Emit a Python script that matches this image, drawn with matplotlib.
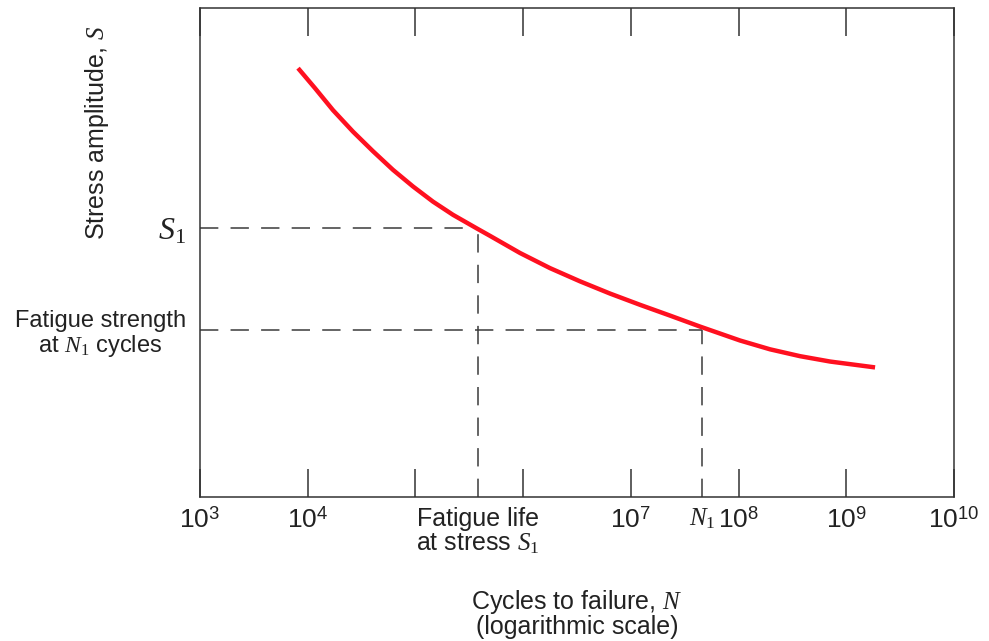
import matplotlib
matplotlib.use('Agg')
import matplotlib.pyplot as plt

plt.rcParams['font.family'] = ['Liberation Sans', 'DejaVu Sans']
plt.rcParams['mathtext.fontset'] = 'custom'
plt.rcParams['mathtext.rm'] = 'Liberation Sans'
plt.rcParams['mathtext.it'] = 'Liberation Serif:italic'
plt.rcParams['mathtext.sf'] = 'Liberation Serif'

# S-N curve (cycles, stress amplitude in arbitrary units)
cycles = [8.13e3, 1.169e4, 1.718e4, 2.636e4, 4.04e4, 6.19e4, 9.5e4, 1.456e5,
          2.234e5, 3.73e5, 4.93e5, 9.35e5, 1.778e6, 3.376e6, 6.41e6, 1.217e7,
          2.31e7, 4.39e7, 1.033e8, 1.96e8, 3.72e8, 7.08e8, 1.85e9]
stress = [87.7, 83.6, 79.1, 74.7, 70.7, 66.9, 63.5, 60.4, 57.7, 54.9, 53.4,
          49.9, 46.8, 44.1, 41.6, 39.3, 37.1, 34.85, 32.0, 30.2, 28.8, 27.7, 26.5]

# marked points
N_life_S1 = 3.8e5      # fatigue life at stress S1
S1 = 55.0
N1 = 4.58e7
S_at_N1 = 34.15        # fatigue strength at N1 cycles

decades = [1e3, 1e4, 1e5, 1e6, 1e7, 1e8, 1e9, 1e10]
decade_labels = ['$10^{3}$', '$10^{4}$', '', '', '$10^{7}$', '$10^{8}$',
                 '$10^{9}$', '$10^{10}$']

fig = plt.figure(figsize=(9.89, 6.41), dpi=100)
ax = fig.add_axes([200/989, 1 - 497/641, 754/989, 489/641])

dash_kw = dict(color='#3a3a3a', lw=1.1, linestyle=(0, (12, 8)))
ax.plot([1e3, N_life_S1], [S1, S1], **dash_kw)
ax.plot([N_life_S1, N_life_S1], [0, S1], **dash_kw)
ax.plot([1e3, N1], [S_at_N1, S_at_N1], **dash_kw)
ax.plot([N1, N1], [0, S_at_N1], **dash_kw)

ax.plot(cycles, stress, color='#ff1020', lw=3.2, solid_capstyle='butt',
        solid_joinstyle='round')

ax.set_xscale('log')
ax.set_xlim(1e3, 1e10)
ax.set_ylim(0, 100)

ax.set_xticks(decades)
ax.set_xticklabels(decade_labels)
ax.set_xticks([N_life_S1, N1], minor=True)
ax.set_xticklabels(['Fatigue life\nat stress $S_\\mathsf{1}$', '$N_\\mathsf{1}$'], minor=True)
ax.tick_params(axis='x', which='major', direction='in', length=20, width=1.1,
               top=True, color='#333333', labelsize=19, pad=7, labelcolor='#222222')
ax.tick_params(axis='x', which='minor', length=0, labelsize=18, pad=7,
               labelcolor='#222222')
for lab in ax.get_xticklabels(minor=True):
    lab.set_verticalalignment('top')
    lab.set_linespacing(1.05)

ax.set_yticks([S_at_N1, S1])
ax.set_yticklabels(['Fatigue strength\nat $N_\\mathsf{1}$ cycles', '$S_\\mathsf{1}$'])
ax.tick_params(axis='y', length=0, labelsize=17, pad=10, labelcolor='#222222')
for lab in ax.get_yticklabels():
    lab.set_multialignment('center')
    lab.set_linespacing(1.1)
ax.get_yticklabels()[1].set_fontsize(23)

for sp in ax.spines.values():
    sp.set_linewidth(1.1)
    sp.set_color('#333333')

ax.text(-0.137, 0.744, 'Stress amplitude, $S$', transform=ax.transAxes,
        rotation=90, ha='center', va='center', fontsize=18, color='#222222')
ax.text(0.5, -0.186, 'Cycles to failure, $N$\n(logarithmic scale)',
        transform=ax.transAxes, ha='center', va='top', fontsize=18,
        color='#222222', linespacing=0.95)

fig.savefig('out.png', dpi=100)
